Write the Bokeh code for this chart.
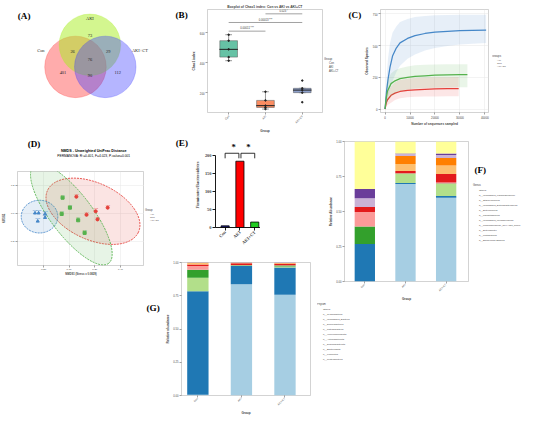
import math
from bokeh.plotting import figure
from bokeh.models import (Range1d, FixedTicker, Legend, LegendItem, Label, Row, Column, Spacer,
                          ColumnDataSource, PrintfTickFormatter)
from bokeh.core.properties import value
from bokeh.embed import file_html
from bokeh.resources import INLINE

S = 0.962
SANS = "Liberation Sans"
SERIF = "Liberation Serif"

# ======================= DATA =======================
groups = ["Con", "AKI", "AKI+CT"]

# (A) Venn diagram of shared ASVs
venn_sets = ["Con", "AKI", "AKI+CT"]
venn_regions = ["Con", "AKI", "AKI+CT", "Con&AKI", "AKI&AKI+CT", "Con&AKI+CT", "all"]
venn_counts = [401, 73, 112, 26, 29, 90, 76]

# (B) Chao1 boxplot
b_low = [414, 90, 200]
b_q1 = [438, 101, 200]
b_med = [490, 113, 217]
b_q3 = [548, 148, 229]
b_high = [588, 206, 229]
b_pt_group = ["Con"] * 5 + ["AKI"] * 5 + ["AKI+CT"] * 5
b_pt_value = [588, 548, 490, 438, 414, 206, 148, 113, 101, 90, 229, 217, 200, 281, 136]
b_sig_pairs = [("Con", "AKI"), ("Con", "AKI+CT"), ("AKI", "AKI+CT")]
b_sig_y = [612, 670, 728]
b_sig_label = ["0.00011 ***", "0.00013 ***", "0.023 *"]
b_kruskal = "Kruskal_p = 1.9e-07"
b_title = "Boxplot of Chao1 index: Con vs AKI vs AKI+CT"

# (C) rarefaction curves
c_aki_depth = [0, 500, 1000, 2400, 4000, 6000, 9000, 12000, 16000, 20000, 25000, 29500]
c_aki_mean = [0, 50, 73, 108, 125, 138, 146, 151, 155, 158, 160, 161]
c_aki_low = [0, 20, 32, 50, 70, 85, 92, 96, 98, 99, 100, 101]
c_aki_high = [0, 90, 130, 177, 210, 229, 239, 245, 248, 250, 251, 252]
c_con_depth = [0, 600, 1200, 2000, 3000, 4500, 6000, 9000, 12000, 16000, 20000, 25000, 30000, 35000, 40500]
c_con_mean = [0, 140, 234, 330, 417, 480, 521, 556, 578, 595, 605, 612, 617, 620, 622]
c_con_low = [0, 50, 100, 160, 220, 290, 340, 395, 430, 460, 480, 497, 508, 515, 520]
c_con_high = [0, 250, 400, 520, 600, 650, 685, 710, 725, 733, 738, 740, 742, 743, 743]
c_ct_depth = [0, 500, 1000, 2400, 4000, 6000, 9000, 12000, 16000, 20000, 25000, 30000, 33000]
c_ct_mean = [0, 90, 142, 200, 222, 239, 250, 257, 262, 266, 268, 270, 271]
c_ct_low = [0, 40, 65, 96, 122, 142, 154, 161, 165, 168, 170, 172, 172]
c_ct_high = [0, 150, 220, 280, 305, 321, 335, 344, 348, 350, 352, 353, 353]

# (D) NMDS
d_group = ["AKI"] * 5 + ["Con"] * 5 + ["AKI+CT"] * 5
d_x = [0.057, 0.207, 0.300, 0.136, 0.221,
       -0.264, -0.236, -0.186, -0.186, -0.243,
       -0.050, 0.007, -0.057, 0.071, 0.121]
d_y = [0.123, 0.019, 0.045, -0.006, -0.039,
       0.006, 0.006, 0.0, -0.026, -0.052,
       0.116, 0.045, 0.0, -0.045, -0.135]
d_label = ["AKI1", "AKI2", "AKI3", "AKI4", "AKI5",
           "Con1", "Con2", "Con3", "Con4", "Con5",
           "CT1", "CT2", "CT3", "CT4", "CT5"]
d_ell_group = ["AKI", "Con", "AKI+CT"]
d_ell_cx = [0.186, -0.229, 0.018]
d_ell_cy = [0.019, -0.019, -0.003]
d_title = "NMDS - Unweighted UniFrac Distance"
d_subtitle = "PERMANOVA: R\u00b2=0.401, F=4.023, P-value=0.001"

# (E) Firmicutes/Bacteroidetes ratio
e_values = [4.5, 183, 15]
e_sig_pairs = [(0, 1), (1, 2)]
e_sig_y = 205

# (F) genus-level relative abundance (stack order bottom -> top)
genus = ["g__Escherichia-Shigella", "g__Lactobacillus", "g__Enterobacter",
         "g__Lachnospiraceae_NK4A136_group", "g__unclassified_Muribaculaceae",
         "g__Ligilactobacillus", "g__Enterococcus", "g__unclassified_Enterobacteriaceae",
         "g__Staphylococcus", "g__unclassified_Lachnospiraceae", "Others"]
genus_con = [0.000, 0.268, 0.000, 0.124, 0.105, 0.035, 0.000, 0.000, 0.063, 0.065, 0.340]
genus_aki = [0.697, 0.007, 0.065, 0.002, 0.003, 0.015, 0.050, 0.058, 0.014, 0.003, 0.086]
genus_akict = [0.599, 0.011, 0.087, 0.003, 0.008, 0.059, 0.061, 0.054, 0.022, 0.011, 0.085]

# (G) phylum-level relative abundance (stack order bottom -> top)
phylum = ["p__Proteobacteria", "p__Firmicutes", "p__Bacteroidota", "p__Desulfobacterota",
          "p__Actinobacteriota", "p__Verrucomicrobiota", "p__Patescibacteria",
          "p__Deferribacteres", "p__unclassified_Bacteria", "p__Cyanobacteria", "Others"]
phylum_con = [0.005, 0.778, 0.103, 0.059, 0.028, 0.012, 0.011, 0.002, 0.001, 0.001, 0.000]
phylum_aki = [0.836, 0.137, 0.002, 0.005, 0.002, 0.013, 0.002, 0.001, 0.001, 0.0005, 0.0005]
phylum_akict = [0.758, 0.204, 0.008, 0.007, 0.003, 0.010, 0.005, 0.002, 0.002, 0.0005, 0.0005]

# ======================= STYLE / LAYOUT =======================
PAIRED = ["#a6cee3", "#1f78b4", "#b2df8a", "#33a02c", "#fb9a99", "#e31a1c",
          "#fdbf6f", "#ff7f00", "#cab2d6", "#6a3d9a", "#ffff99"]
BOX_COLORS = ["#66c2a5", "#fc8d62", "#8da0cb"]
GCOL = {"AKI": "#e5403a", "Con": "#4587c8", "AKI+CT": "#55b24d"}
E_COLORS = ["#1b1b78", "#ff0000", "#22cc22"]
PANEL_FS = 9.5

BOX = {
    "A": (0, 0, 180, 140),
    "BL": (180, 0, 196, 140),
    "B": (196, 0, 337, 140),
    "BLeg": (337, 59, 360, 140),
    "CL": (360, 0, 376, 140),
    "C": (376, 0, 511, 140),
    "CLeg": (511, 57, 550, 140),
    "DT": (0, 140, 150, 166),
    "D": (0, 166, 150, 290),
    "DLT": (150, 140, 196, 216),
    "DL": (150, 216, 196, 262),
    "E": (196, 140, 270, 262),
    "GLab": (150, 262, 167, 433),
    "G": (167, 262, 330, 433),
    "F": (330, 140, 491, 315),
    "FLegT": (491, 140, 550, 190),
    "FLeg": (491, 190, 550, 315),
    "GL": (330, 315, 420, 380),
}
FRAME = {
    "B": (210, 9, 335, 128),
    "C": (388, 7, 507, 125),
    "D": (12, 178, 150, 282),
    "E": (223, 148, 270, 236),
    "F": (358, 147, 486, 300),
    "G": (188, 272, 322, 418),
}


def R(v):
    return round(v * S)


def fs(v):
    return f"{v * S:.2f}px"


def mkfig(key, x_range, y_range, **kw):
    x0, y0, x1, y1 = BOX[key]
    fx0, fy0, fx1, fy1 = FRAME.get(key, BOX[key])
    p = figure(width=R(x1) - R(x0), height=R(y1) - R(y0), x_range=x_range, y_range=y_range,
               output_backend="svg", toolbar_location=None,
               min_border_left=R(fx0) - R(x0), min_border_right=R(x1) - R(fx1),
               min_border_top=R(fy0) - R(y0), min_border_bottom=R(y1) - R(fy1), **kw)
    p.border_fill_color = None
    return p


def blank(p):
    p.outline_line_color = None
    p.background_fill_color = None
    p.grid.grid_line_color = None


def canvas(key):
    """A bare canvas whose data units equal reference pixels (y downwards)."""
    x0, y0, x1, y1 = BOX[key]
    p = mkfig(key, Range1d(x0, x1), Range1d(y1, y0), x_axis_location=None, y_axis_location=None)
    blank(p)
    return p


def put(p, text, x, y, size, font=SANS, bold=False, align="left", color="black"):
    p.text(x=[x], y=[y], text=[text], text_font=value(font), text_font_size=fs(size),
           text_font_style="bold" if bold else "normal", text_align=align,
           text_baseline="middle", text_color=color)


def sp(xr, yr):
    return Spacer(width=R(xr[1]) - R(xr[0]), height=R(yr[1]) - R(yr[0]))


def gg(p, tfs=2.9, lfs=3.3, grid=False):
    p.outline_line_color = "#b5b5b5"
    p.outline_line_width = 0.6
    for ax in p.axis:
        ax.axis_line_color = None
        ax.major_tick_line_color = "#444444"
        ax.major_tick_line_width = 0.5
        ax.major_tick_out = 2
        ax.major_tick_in = 0
        ax.minor_tick_line_color = None
        ax.major_label_text_font_size = fs(tfs)
        ax.major_label_text_font = SANS
        ax.major_label_text_color = "#444444"
        ax.major_label_standoff = 1
        ax.axis_label_text_font_size = fs(lfs)
        ax.axis_label_text_font = SANS
        ax.axis_label_text_font_style = "bold"
        ax.axis_label_standoff = 1
    if grid:
        p.grid.grid_line_color = "#e6e6e6"
        p.grid.grid_line_width = 0.5
    else:
        p.grid.grid_line_color = None


def mk_legend(items, title, fsz, glyph, spacing):
    lg = Legend(items=items, title=title, location="top_left")
    lg.label_text_font_size = fs(fsz)
    lg.label_text_font = SANS
    lg.title_text_font_size = fs(fsz * 1.1)
    lg.title_text_font = SANS
    lg.title_text_font_style = "normal"
    lg.glyph_width = max(1, R(glyph))
    lg.glyph_height = max(1, R(glyph))
    lg.label_height = max(1, R(glyph))
    lg.label_width = 1
    lg.spacing = spacing
    lg.padding = 0
    lg.margin = 0
    lg.label_standoff = 2
    lg.title_standoff = 1
    lg.border_line_color = None
    lg.background_fill_alpha = 0
    return lg


def cat_ticks(p, labels):
    p.xaxis.ticker = FixedTicker(ticks=list(range(len(labels))))
    p.xaxis.major_label_overrides = {i: l for i, l in enumerate(labels)}


# ---------------- (A) Venn ----------------
pA = canvas("A")
venn_circle_x = [78, 93, 109]
venn_circle_y = [78, 48, 78]
venn_fill = ["#ff3030", "#a8ee20", "#3c3cff"]
venn_alpha = [0.40, 0.5, 0.38]
for cx, cy, c, a in zip(venn_circle_x, venn_circle_y, venn_fill, venn_alpha):
    pA.circle(x=[cx], y=[cy], radius=32, fill_color=c, fill_alpha=a,
              line_color=c, line_alpha=0.5, line_width=0.5)
venn_region_pos = [(65, 86), (93, 35), (122, 86), (75, 57), (112, 57), (93, 90), (93, 68)]
pA.text(x=[q[0] for q in venn_region_pos], y=[q[1] for q in venn_region_pos],
        text=[str(c) for c in venn_counts], text_font=value(SERIF), text_font_size=fs(4.6),
        text_align="center", text_baseline="middle", text_color="#222222")
venn_set_pos = [(42, 56), (93, 12), (145, 56)]
pA.text(x=[q[0] for q in venn_set_pos], y=[q[1] for q in venn_set_pos], text=venn_sets,
        text_font=value(SERIF), text_font_size=fs(4.6), text_align="center",
        text_baseline="middle", text_color="#222222")
put(pA, "(A)", 18, 8.5, PANEL_FS, font=SERIF, bold=True)

# ---------------- (B) Boxplot ----------------
pBL = canvas("BL")
put(pBL, "(B)", 182, 7.5, PANEL_FS, font=SERIF, bold=True)

pB = mkfig("B", Range1d(-0.575, 2.55), Range1d(67, 757), title=b_title)
pB.title.text_font = SANS
pB.title.text_font_size = fs(3.5)
pB.title.text_font_style = "bold"
pB.title.align = "center"
pB.title.standoff = 2
gg(pB)
bx = list(range(len(groups)))
srcB = ColumnDataSource(dict(x=bx, low=b_low, q1=b_q1, med=b_med, q3=b_q3, high=b_high, col=BOX_COLORS))
pB.segment(x0="x", y0="low", x1="x", y1="q1", source=srcB, line_color="#333333", line_width=0.5)
pB.segment(x0="x", y0="q3", x1="x", y1="high", source=srcB, line_color="#333333", line_width=0.5)
pB.scatter(x="x", y="low", source=srcB, marker="dash", size=7 * S, line_color="#333333", line_width=0.5)
pB.scatter(x="x", y="high", source=srcB, marker="dash", size=7 * S, line_color="#333333", line_width=0.5)
pB.vbar(x="x", bottom="q1", top="q3", width=0.48, fill_color="col",
        line_color="#555555", line_width=0.5, source=srcB)
pB.scatter(x="x", y="med", source=srcB, marker="dash", size=0.48 * 40 * S,
           line_color="#222222", line_width=1.0)
pB.scatter(x=[groups.index(g) for g in b_pt_group], y=b_pt_value, size=1.6 * S, color="#222222")
pair_x0 = [groups.index(a) for a, b in b_sig_pairs]
pair_x1 = [groups.index(b) for a, b in b_sig_pairs]
pB.segment(x0=pair_x0, x1=pair_x1, y0=b_sig_y, y1=b_sig_y, line_color="#444444", line_width=0.5)
pB.text(x=[(a + b) / 2 for a, b in zip(pair_x0, pair_x1)], y=[v + 6 for v in b_sig_y],
        text=b_sig_label, text_font=value(SANS), text_font_size=fs(2.8),
        text_align="center", text_baseline="bottom", text_color="#333333")
pB.add_layout(Label(x=3 * S, y=(128 - 12) * S, x_units="screen", y_units="screen", text=b_kruskal,
                    text_font=SANS, text_font_size=fs(2.8), text_baseline="middle"))
cat_ticks(pB, groups)
pB.xaxis.major_label_orientation = math.pi / 4
pB.yaxis.ticker = FixedTicker(ticks=[200, 400, 600])
pB.xaxis.axis_label = "Group"
pB.yaxis.axis_label = "Chao1 index"

pBLeg = canvas("BLeg")
itemsB = []
for g, c in zip(groups, BOX_COLORS):
    r = pBLeg.vbar(x=[], top=[], width=1, fill_color=c, line_color="#555555", line_width=0.5)
    itemsB.append(LegendItem(label=g, renderers=[r]))
pBLeg.add_layout(mk_legend(itemsB, "Group", 2.8, 3.6, 1))

# ---------------- (C) Rarefaction ----------------
pCL = canvas("CL")
put(pCL, "(C)", 362, 8, PANEL_FS, font=SERIF, bold=True)

pC = mkfig("C", Range1d(-1820, 41450), Range1d(-27.5, 784))
gg(pC, grid=True)
c_series = [("AKI", c_aki_depth, c_aki_mean, c_aki_low, c_aki_high),
            ("Con", c_con_depth, c_con_mean, c_con_low, c_con_high),
            ("AKI+CT", c_ct_depth, c_ct_mean, c_ct_low, c_ct_high)]
for name, dx, mean, lo, hi in c_series:
    pC.varea(x=dx, y1=lo, y2=hi, fill_color=GCOL[name], fill_alpha=0.13)
    pC.line(x=dx, y=mean, line_color=GCOL[name], line_width=1.3 * S)
pC.xaxis.ticker = FixedTicker(ticks=[0, 10000, 20000, 30000, 40000])
pC.yaxis.ticker = FixedTicker(ticks=[0, 250, 500, 750])
pC.xaxis.axis_label = "Number of sequences sampled"
pC.yaxis.axis_label = "Observed Species"

pCLeg = canvas("CLeg")
itemsC = []
for name, dx, mean, lo, hi in c_series:
    va = pCLeg.varea(x=[], y1=[], y2=[], fill_color=GCOL[name], fill_alpha=0.13)
    ln = pCLeg.line(x=[], y=[], line_color=GCOL[name], line_width=1.3 * S)
    itemsC.append(LegendItem(label=name, renderers=[va, ln]))
pCLeg.add_layout(mk_legend(itemsC, "Groups", 2.6, 3.5, 0))

# ---------------- (D) NMDS ----------------
pDT = canvas("DT")
put(pDT, "(D)", 12, 149, PANEL_FS, font=SERIF, bold=True)
put(pDT, d_title, 90, 156, 3.8, bold=True, align="center")
put(pDT, d_subtitle, 90, 161, 3.4, align="center")

pD = mkfig("D", Range1d(-0.4, 0.586), Range1d(-0.368, 0.303))
gg(pD, tfs=2.6, lfs=2.8, grid=True)
ell_a = [52, 19, 64]
ell_b = [29.5, 17, 21.7]
ell_ang = [-0.43, 0.0, -0.92]
for g, cx, cy, a, b, ang in zip(d_ell_group, d_ell_cx, d_ell_cy, ell_a, ell_b, ell_ang):
    pD.ellipse(x=[cx], y=[cy], width=2 * a * S, height=2 * b * S, angle=ang,
               width_units="screen", height_units="screen",
               fill_color=GCOL[g], fill_alpha=0.14, line_color=GCOL[g],
               line_dash="2 1", line_width=0.9)
markers = {"AKI": "circle", "Con": "triangle", "AKI+CT": "square"}
for g in ["AKI", "Con", "AKI+CT"]:
    idx = [i for i, gg_ in enumerate(d_group) if gg_ == g]
    pD.scatter(x=[d_x[i] for i in idx], y=[d_y[i] for i in idx], marker=markers[g],
               size=3.2 * S, color=GCOL[g])
    pD.text(x=[d_x[i] for i in idx], y=[d_y[i] for i in idx], text=[d_label[i] for i in idx],
            text_font=value(SANS), text_font_size=fs(2.2), text_color=GCOL[g],
            text_align="center", text_baseline="bottom", y_offset=-1.5)
pD.xaxis.ticker = FixedTicker(ticks=[-0.2, 0.0, 0.2, 0.4])
pD.yaxis.ticker = FixedTicker(ticks=[-0.2, 0.0, 0.2])
pD.xaxis.formatter = PrintfTickFormatter(format="%.2f")
pD.yaxis.formatter = PrintfTickFormatter(format="%.1f")
pD.xaxis.axis_label = "NMDS1 (Stress = 0.0829)"
pD.yaxis.axis_label = "NMDS2"

pDLT = canvas("DLT")
put(pDLT, "(E)", 182, 147.5, PANEL_FS, font=SERIF, bold=True)
pDL = canvas("DL")
d_items = []
for g in ["AKI", "Con", "AKI+CT"]:
    r = pDL.scatter(x=[], y=[], marker=markers[g], size=3.2 * S, color=GCOL[g])
    d_items.append(LegendItem(label=g, renderers=[r]))
lgD = mk_legend(d_items, "Group", 2.6, 3.6, 0)
lgD.margin = 1
pDL.add_layout(lgD)

# ---------------- (E) F/B ratio ----------------
pE = mkfig("E", Range1d(-0.65, 2.39), Range1d(0, 234.7))
pE.outline_line_color = None
pE.grid.grid_line_color = None
ex = list(range(len(groups)))
pE.vbar(x=ex, top=e_values, width=0.55, fill_color=E_COLORS, line_color="black", line_width=0.8)
br_xs, br_ys, st_x = [], [], []
for a, b in e_sig_pairs:
    xa = a + (0.07 if a > 0 else 0)
    xb = b - (0.07 if b == 1 else 0)
    br_xs.append([xa, xa, xb, xb])
    br_ys.append([e_sig_y - 14, e_sig_y, e_sig_y, e_sig_y - 14])
    st_x.append((a + b) / 2 + 0.08)
pE.multi_line(xs=br_xs, ys=br_ys, line_color="black", line_width=0.8)
pE.text(x=st_x, y=[e_sig_y + 16] * len(st_x), text=["*"] * len(st_x), text_font=value(SERIF),
        text_font_size=fs(9), text_font_style="bold", text_align="center", text_baseline="middle")
cat_ticks(pE, groups)
pE.yaxis.ticker = FixedTicker(ticks=[0, 50, 100, 150, 200])
pE.yaxis.bounds = (0, 200)
pE.xaxis.major_label_orientation = math.pi / 4
pE.yaxis.axis_label = "Firmicutes/Bacteroidetes"
for ax in pE.axis:
    ax.axis_line_width = 0.9
    ax.axis_line_color = "black"
    ax.major_tick_line_width = 0.9
    ax.major_tick_out = 3
    ax.major_tick_in = 0
    ax.minor_tick_line_color = None
    ax.major_label_text_font = SERIF
    ax.major_label_text_font_style = "bold"
    ax.major_label_text_font_size = fs(4.6)
    ax.major_label_standoff = 1
    ax.axis_label_text_font = SERIF
    ax.axis_label_text_font_style = "bold"
    ax.axis_label_text_font_size = fs(4.6)
    ax.axis_label_standoff = 2

# ---------------- (F) Genus stacked bars ----------------
pF = mkfig("F", Range1d(-0.5, 2.55), Range1d(0, 1))
gg(pF, tfs=2.8, lfs=3.2)
srcF = ColumnDataSource(dict({"x": list(range(len(groups)))},
                             **{g: [genus_con[i], genus_aki[i], genus_akict[i]] for i, g in enumerate(genus)}))
pF.vbar_stack(genus, x="x", width=0.5, color=PAIRED, line_color=None, source=srcF)
cat_ticks(pF, groups)
pF.xaxis.major_label_orientation = math.pi / 4
pF.yaxis.ticker = FixedTicker(ticks=[0, 0.25, 0.5, 0.75, 1.0])
pF.yaxis.formatter = PrintfTickFormatter(format="%.2f")
pF.xaxis.axis_label = "Group"
pF.yaxis.axis_label = "Relative Abundance"

pFLegT = canvas("FLegT")
put(pFLegT, "(F)", 493, 176, PANEL_FS, font=SERIF, bold=True)
pFLeg = canvas("FLeg")
itemsF = []
for g, c in reversed(list(zip(genus, PAIRED))):
    r = pFLeg.vbar(x=[], top=[], width=1, fill_color=c, line_color=None)
    itemsF.append(LegendItem(label=g, renderers=[r]))
lgF = mk_legend(itemsF, "Genus", 2.5, 4.2, 1)
lgF.margin = 1
pFLeg.add_layout(lgF)

# ---------------- (G) Phylum stacked bars ----------------
pGLab = canvas("GLab")
put(pGLab, "(G)", 152, 320, PANEL_FS, font=SERIF, bold=True)

pG = mkfig("G", Range1d(-0.376, 2.586), Range1d(0, 1))
gg(pG, tfs=2.8, lfs=3.2)
srcG = ColumnDataSource(dict({"x": list(range(len(groups)))},
                             **{g: [phylum_con[i], phylum_aki[i], phylum_akict[i]] for i, g in enumerate(phylum)}))
pG.vbar_stack(phylum, x="x", width=0.49, color=PAIRED, line_color=None, source=srcG)
cat_ticks(pG, groups)
pG.xaxis.major_label_orientation = math.pi / 4
pG.yaxis.ticker = FixedTicker(ticks=[0, 0.25, 0.5, 0.75, 1.0])
pG.yaxis.formatter = PrintfTickFormatter(format="%.2f")
pG.xaxis.axis_label = "Group"
pG.yaxis.axis_label = "Relative abundance"

pGL = canvas("GL")
itemsGL = []
for g, c in reversed(list(zip(phylum, PAIRED))):
    r = pGL.vbar(x=[], top=[], width=1, fill_color=c, line_color=None)
    itemsGL.append(LegendItem(label=g, renderers=[r]))
pGL.add_layout(mk_legend(itemsGL, "Phylum", 2.5, 4.0, 1))

# ======================= NESTED LAYOUT =======================
colBLeg = Column(children=[sp((337, 360), (0, 59)), pBLeg], spacing=0)
colCLeg = Column(children=[sp((511, 550), (0, 57)), pCLeg], spacing=0)
row1 = Row(children=[pA, pBL, pB, colBLeg, pCL, pC, colCLeg], spacing=0)

colL1 = Column(children=[pDT, pD, sp((0, 150), (290, 433))], spacing=0)
colDL = Column(children=[pDLT, pDL], spacing=0)
rowDE = Row(children=[colDL, pE, sp((270, 330), (140, 262))], spacing=0)
rowG = Row(children=[pGLab, pG], spacing=0)
colL2 = Column(children=[rowDE, rowG], spacing=0)
colFLeg = Column(children=[pFLegT, pFLeg], spacing=0)
rowF = Row(children=[pF, colFLeg], spacing=0)
rowGL = Row(children=[pGL, sp((420, 550), (315, 380))], spacing=0)
colR = Column(children=[rowF, rowGL, sp((330, 550), (380, 433))], spacing=0)
row2 = Row(children=[colL1, colL2, colR], spacing=0)
p = Column(children=[row1, row2], spacing=0)

open("out.html", "w").write(file_html(p, INLINE))
